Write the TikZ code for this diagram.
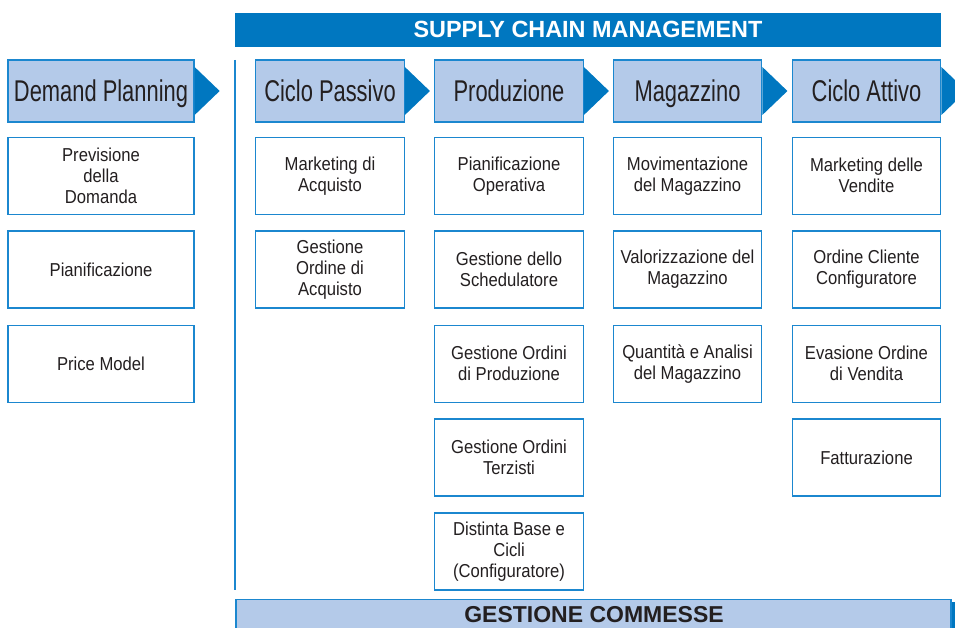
\documentclass[tikz,border=0pt]{standalone}
\usepackage{fontspec}
\setmainfont{Liberation Sans}
\newfontfamily\hdfont[FakeStretch=0.73]{Liberation Sans}
\newfontfamily\subfont[FakeStretch=0.89]{Liberation Sans}
\usetikzlibrary{calc}
\definecolor{barblue}{HTML}{0077C0}
\definecolor{lightfill}{HTML}{B4CAE9}
\definecolor{edgeblue}{HTML}{1B87CF}
\definecolor{txt}{HTML}{231F20}
\tikzset{
  hdbox/.style={draw=edgeblue, line width=1.3pt, fill=lightfill, minimum height=62pt, inner sep=0pt, text height=22pt, text depth=0.6pt, text=txt, font=\hdfont\fontsize{30}{32}\selectfont},
  subbox/.style={draw=edgeblue, line width=1.3pt, fill=white, minimum height=77pt, inner sep=0pt, align=center, text=txt, font=\subfont\fontsize{18.7}{21}\selectfont},
  wide/.style={minimum width=186pt},
  narrow/.style={minimum width=148.5pt},
  tri/.style={fill=barblue}
}
\newcommand{\headtri}[1]{\fill[tri] ($(#1.east)+(0,-24)$) -- ($(#1.east)+(25,0)$) -- ($(#1.east)+(0,24)$) -- cycle;}
\begin{document}
\begin{tikzpicture}[x=1pt,y=-1pt]
\useasboundingbox (0,0) rectangle (955,628);
\clip (0,0) rectangle (955,628);
% top bar
\node[fill=barblue, minimum width=706pt, minimum height=34pt, inner sep=0pt, text=white, font=\bfseries\fontsize{23.4}{25}\selectfont] (scm) at (588,29.7) {SUPPLY CHAIN MANAGEMENT};
% vertical divider
\coordinate (vtop) at (235,60);
\coordinate (vbot) at (235,590);
\draw[edgeblue, line width=1.4pt] (vtop) -- (vbot);
% header boxes
\node[hdbox, wide] (dp) at (101,91) {Demand Planning};
\node[hdbox, narrow] (cp) at (330,91) {Ciclo Passivo};
\node[hdbox, narrow] (pr) at (509,91) {Produzione};
\node[hdbox, narrow] (mg) at (687.5,91) {Magazzino};
\node[hdbox, narrow] (ca) at (866.5,91) {Ciclo Attivo};
\headtri{dp}
\headtri{cp}
\headtri{pr}
\headtri{mg}
\headtri{ca}
% column 1
\node[subbox, wide] (a1) at (101,175.7) {Previsione\\della\\Domanda};
\node[subbox, wide] (a2) at (101,269.5) {Pianificazione};
\node[subbox, wide] (a3) at (101,363.7) {Price Model};
% column 2
\node[subbox, narrow] (b1) at (330,175.7) {Marketing di\\Acquisto};
\node[subbox, narrow] (b2) at (330,269.5) {Gestione\\Ordine di\\Acquisto};
% column 3
\node[subbox, narrow] (c1) at (509,175.7) {Pianificazione\\Operativa};
\node[subbox, narrow] (c2) at (509,269.5) {Gestione dello\\Schedulatore};
\node[subbox, narrow] (c3) at (509,363.7) {Gestione Ordini\\di Produzione};
\node[subbox, narrow] (c4) at (509,457.6) {Gestione Ordini\\Terzisti};
\node[subbox, narrow] (c5) at (509,551.6) {Distinta Base e\\Cicli\\(Configuratore)};
% column 4
\node[subbox, narrow] (d1) at (687.5,175.7) {Movimentazione\\del Magazzino};
\node[subbox, narrow] (d2) at (687.5,269.5) {Valorizzazione del\\Magazzino};
\node[subbox, narrow] (d3) at (687.5,363.7) {Quantità e Analisi\\del Magazzino};
% column 5
\node[subbox, narrow] (e1) at (866.5,175.7) {Marketing delle\\Vendite};
\node[subbox, narrow] (e2) at (866.5,269.5) {Ordine Cliente\\Configuratore};
\node[subbox, narrow] (e3) at (866.5,363.7) {Evasione Ordine\\di Vendita};
\node[subbox, narrow] (e4) at (866.5,457.6) {Fatturazione};
% bottom bar with shadow
\fill[barblue] (950,602) rectangle (956,650);
\draw[edgeblue, line width=1.5pt, fill=lightfill] (236,599.5) rectangle (951,650);
\node[text=txt, font=\bfseries\fontsize{23}{25}\selectfont, inner sep=0pt] (gc) at (594,615) {GESTIONE COMMESSE};
\end{tikzpicture}
\end{document}
